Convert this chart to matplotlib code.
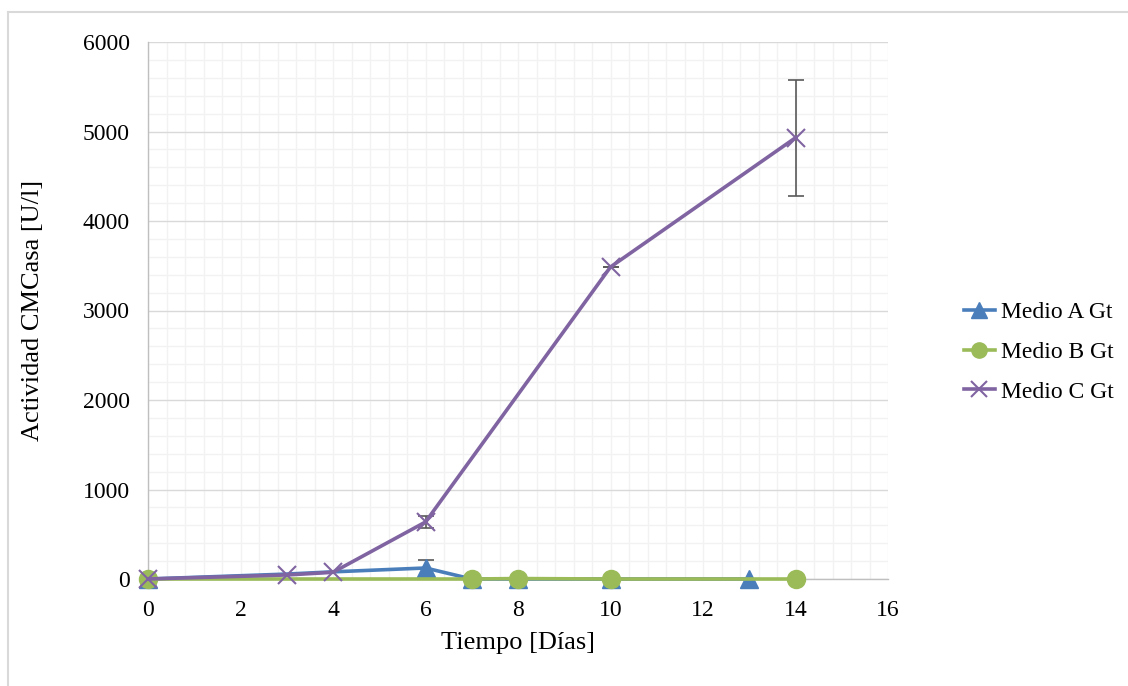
import matplotlib
matplotlib.use("Agg")
import matplotlib.pyplot as plt
from matplotlib.lines import Line2D
from matplotlib.ticker import MultipleLocator

plt.rcParams['font.family'] = ['Liberation Serif', 'DejaVu Serif']

# Data
a_x = [0, 3, 4, 6, 7, 8, 10, 13]
a_y = [0, 55, 80, 123, 0, 0, 0, 0]
a_err = [0, 0, 0, 90, 0, 0, 0, 0]

b_x = [0, 7, 8, 10, 14]
b_y = [0, 0, 5, 0, 0]

c_x = [0, 3, 4, 6, 10, 14]
c_y = [0, 45, 75, 637, 3486, 4930]
c_err = [0, 0, 0, 65, 0, 650]

labels = ["Medio A Gt", "Medio B Gt", "Medio C Gt"]
col_a, col_b, col_c = "#4A7EBB", "#9BBB59", "#8064A2"

fig = plt.figure(figsize=(11.28, 6.86), dpi=100)
ax = fig.add_axes([148/1128, 1-579/686, 740/1128, 537/686])

ax.xaxis.set_major_locator(MultipleLocator(2))
ax.xaxis.set_minor_locator(MultipleLocator(0.4))
ax.yaxis.set_major_locator(MultipleLocator(1000))
ax.yaxis.set_minor_locator(MultipleLocator(200))
ax.grid(which='minor', color='#F2F2F2', lw=1.0, zorder=0)
ax.grid(which='major', axis='x', color='#F2F2F2', lw=1.0, zorder=0)
ax.grid(which='major', axis='y', color='#D9D9D9', lw=1.0, zorder=0)
ax.set_axisbelow(True)
ax.set_xlim(0, 16)
ax.set_ylim(0, 6000)
for s in ['top', 'right']:
    ax.spines[s].set_visible(False)
for s in ['left', 'bottom']:
    ax.spines[s].set_color('#BFBFBF')
    ax.spines[s].set_linewidth(1.0)
ax.tick_params(which='both', length=0, labelsize=17)
ax.tick_params(axis='x', pad=15)
ax.tick_params(axis='y', pad=13)

# Error bars
ax.errorbar(a_x, a_y, yerr=a_err, fmt='none', ecolor='#595959', elinewidth=1.2,
            capsize=6, capthick=1.2, zorder=2)
ax.errorbar(c_x, c_y, yerr=c_err, fmt='none', ecolor='#595959', elinewidth=1.2,
            capsize=6, capthick=1.2, zorder=2)

ax.plot(a_x, a_y, color=col_a, lw=2.6, marker='^', ms=13, markevery=[0, 3, 4, 5, 6, 7],
        clip_on=False, zorder=3)
ax.plot(b_x, b_y, color=col_b, lw=2.6, marker='o', ms=13, clip_on=False, zorder=4)
ax.plot(c_x, c_y, color=col_c, lw=2.6, marker='x', ms=13, mew=1.5, clip_on=False, zorder=5)

ax.set_xlabel("Tiempo [Días]", fontsize=19, labelpad=8)
ax.set_ylabel("Actividad CMCasa [U/l]", fontsize=19, labelpad=28)

handles = [
    Line2D([], [], color=col_a, lw=2.6, marker='^', ms=11),
    Line2D([], [], color=col_b, lw=2.6, marker='o', ms=11),
    Line2D([], [], color=col_c, lw=2.6, marker='x', ms=11, mew=1.5),
]
fig.legend(handles, labels, loc='center left', bbox_to_anchor=(964/1128, 1-352/686),
           frameon=False, fontsize=17, handlelength=1.3, handletextpad=0.25,
           labelspacing=0.78, borderaxespad=0, borderpad=0)

# Outer border (chart area)
fig.add_artist(Line2D([8/1128, 8/1128], [0, 1-12/686], color='#D9D9D9', lw=1.5,
                      transform=fig.transFigure))
fig.add_artist(Line2D([8/1128, 1], [1-12/686, 1-12/686], color='#D9D9D9', lw=1.5,
                      transform=fig.transFigure))

fig.savefig("out.png", dpi=100)
